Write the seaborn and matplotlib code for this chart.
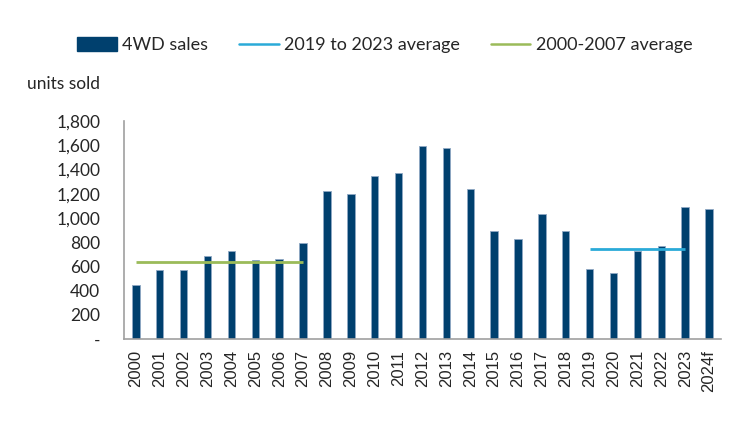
import seaborn as sns
import matplotlib.pyplot as plt
import pandas as pd
from matplotlib.patches import Patch
from matplotlib.lines import Line2D

years = ["2000", "2001", "2002", "2003", "2004", "2005", "2006", "2007", "2008",
         "2009", "2010", "2011", "2012", "2013", "2014", "2015", "2016", "2017",
         "2018", "2019", "2020", "2021", "2022", "2023", "2024f"]
sales = [446, 567, 567, 685, 724, 650, 660, 790, 1220, 1195, 1349, 1368, 1596,
         1575, 1236, 889, 823, 1030, 889, 575, 542, 724, 765, 1093, 1076]
recent_span = ["2019", "2023"]
early_span = ["2000", "2007"]
yticks = [0, 200, 400, 600, 800, 1000, 1200, 1400, 1600, 1800]

bar_col = "#00406e"
blue_col = "#2aaad8"
green_col = "#9bbb59"

sns.set_theme(style="white")
plt.rcParams['font.family'] = ['Lato', 'DejaVu Sans']

df = pd.DataFrame({"year": years, "sales": sales})

fig = plt.figure(figsize=(7.5, 4.22), dpi=100)
ax = fig.add_axes([0.1653, 0.1967, 0.796, 0.5166])

sns.barplot(data=df, x="year", y="sales", color=bar_col, width=0.31,
            saturation=1, edgecolor="#8fa8c4", linewidth=0.6, ax=ax)

def avg_line(span, col):
    i0, i1 = years.index(span[0]), years.index(span[1])
    avg = sum(sales[i0:i1 + 1]) / (i1 - i0 + 1)
    ax.plot([i0, i1], [avg, avg], color=col, lw=2, solid_capstyle="butt")

avg_line(recent_span, blue_col)
avg_line(early_span, green_col)

ax.set_xlim(-0.5, len(years) - 0.5)
ax.set_ylim(0, 1800)
ax.set_yticks(yticks)
ax.set_yticklabels(["-" if v == 0 else f"{v:,}" for v in yticks], fontsize=12.5)
ax.tick_params(axis="x", rotation=90, labelsize=12, length=0, pad=8)
ax.tick_params(axis="y", length=0, pad=17)
for lbl in ax.get_xticklabels():
    lbl.set_family(["Liberation Sans", "DejaVu Sans"])
ax.set_xlabel("")
ax.set_ylabel("")
for s in ["top", "right"]:
    ax.spines[s].set_visible(False)
for s in ["left", "bottom"]:
    ax.spines[s].set_color("#a0a0a0")
    ax.spines[s].set_linewidth(1.2)

fig.text(0.036, 0.802, "units sold", fontsize=12.5, va="center", ha="left")

handles = [Patch(facecolor=bar_col, edgecolor=bar_col),
           Line2D([], [], color=blue_col, lw=1.8),
           Line2D([], [], color=green_col, lw=1.8)]
labels = ["4WD sales", "2019 to 2023 average", "2000-2007 average"]
fig.legend(handles, labels, loc="center", bbox_to_anchor=(0.513, 0.893), ncol=3,
           frameon=False, fontsize=13, handlelength=2.2, handleheight=0.8,
           handletextpad=0.3, columnspacing=1.7)

fig.savefig("out.png", dpi=100)
